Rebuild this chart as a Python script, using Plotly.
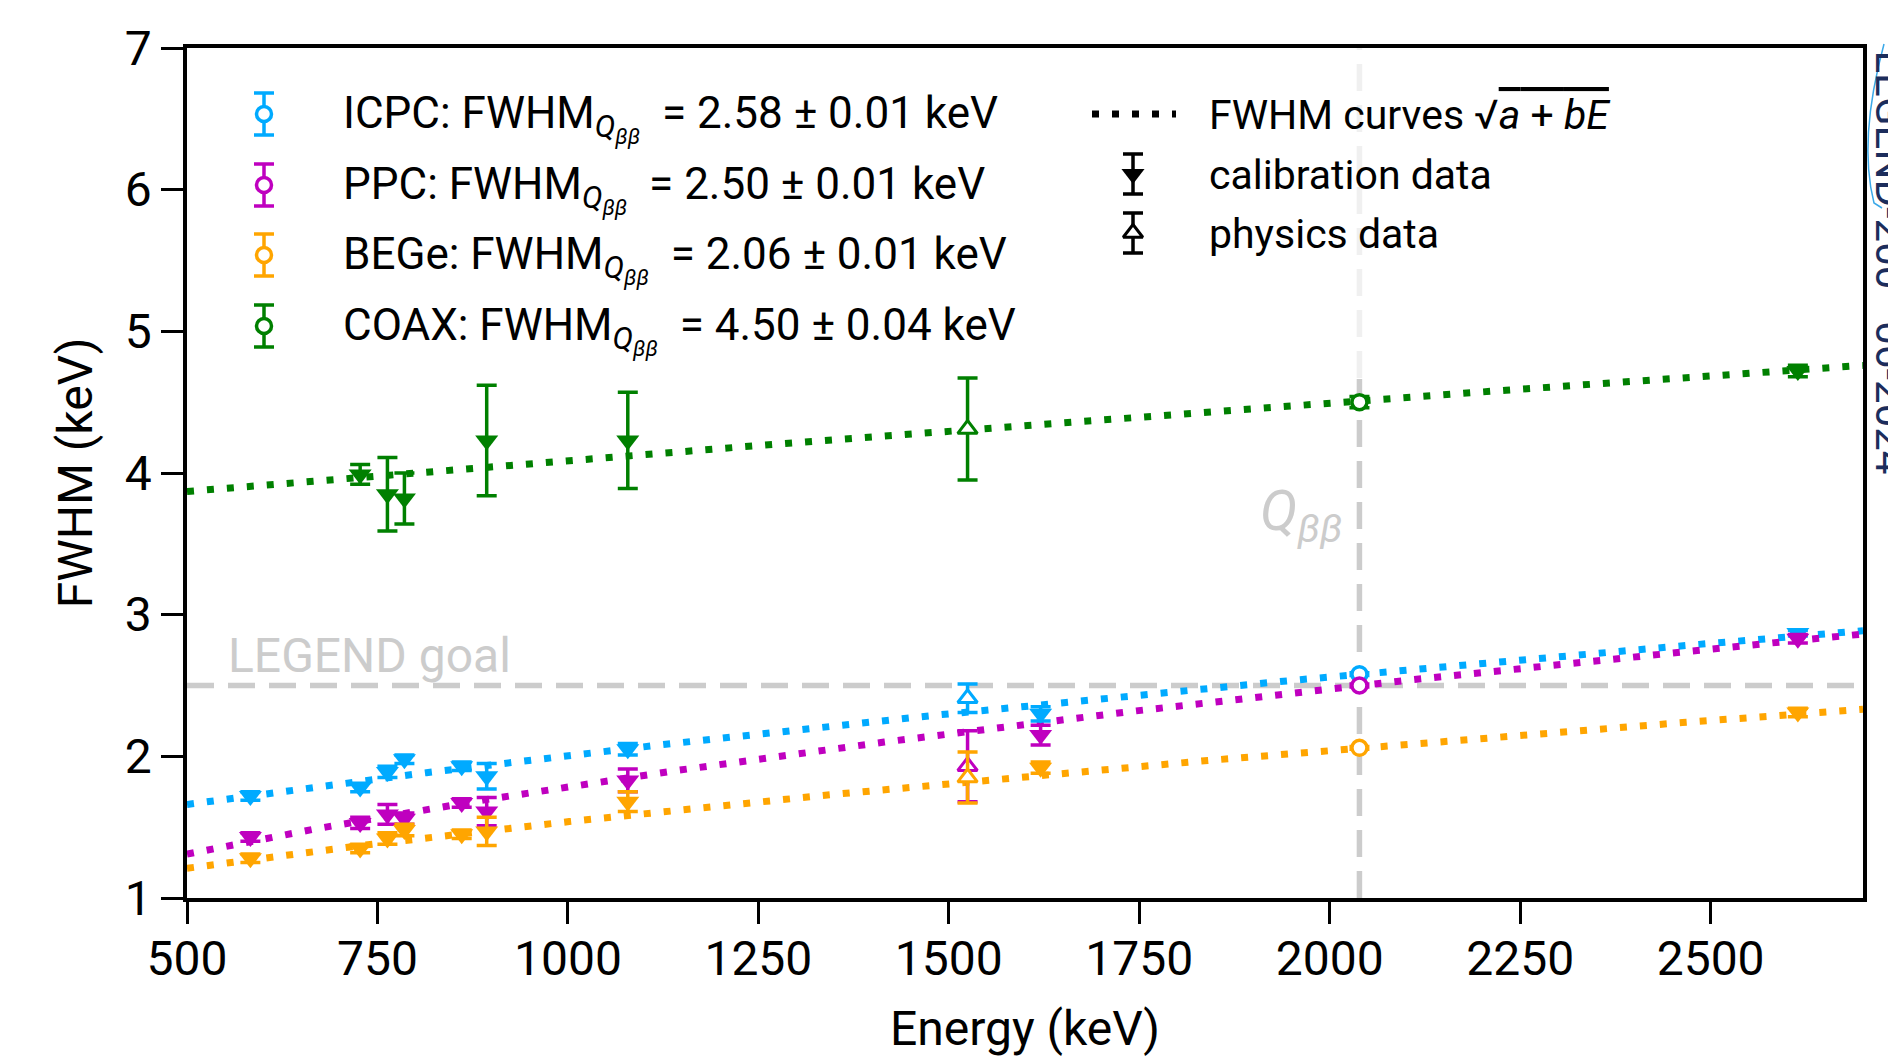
import numpy as np
import plotly.graph_objects as go

# ---------------- data ----------------
detectors = ["ICPC", "PPC", "BEGe", "COAX"]
colors = ["#00aaff", "#bf00bf", "#ffa500", "#008000"]
fwhm_qbb = [2.58, 2.50, 2.06, 4.50]
fwhm_qbb_err = [0.01, 0.01, 0.01, 0.04]
q_bb = 2039.0

cal_energy = [583.2, 727.3, 763.1, 785.4, 860.6, 893.4, 1078.6, 1620.5, 2614.5]
icpc_cal = [1.72, 1.78, 1.89, 1.98, 1.93, 1.86, 2.05, 2.30, 2.87]
icpc_cal_err = [0.03, 0.03, 0.04, 0.03, 0.03, 0.09, 0.04, 0.05, 0.02]
ppc_cal = [1.43, 1.53, 1.59, 1.56, 1.67, 1.61, 1.83, 2.15, 2.83]
ppc_cal_err = [0.03, 0.04, 0.07, 0.04, 0.03, 0.10, 0.08, 0.07, 0.03]
bege_cal = [1.28, 1.35, 1.42, 1.48, 1.45, 1.47, 1.68, 1.92, 2.31]
bege_cal_err = [0.03, 0.03, 0.04, 0.04, 0.03, 0.10, 0.07, 0.04, 0.03]
coax_cal_energy = [727.3, 763.1, 785.4, 893.4, 1078.6, 2614.5]
coax_cal = [3.99, 3.85, 3.82, 4.23, 4.23, 4.72]
coax_cal_err = [0.07, 0.26, 0.18, 0.39, 0.34, 0.04]

phys_energy = [1524.6]
icpc_phys = [2.41]
icpc_phys_err = [0.10]
ppc_phys = [1.93]
ppc_phys_err = [0.25]
bege_phys = [1.85]
bege_phys_err = [0.18]
coax_phys = [4.31]
coax_phys_err = [0.36]

# fit parameters of FWHM = sqrt(a + b E)
fit_a = [1.489, 0.243, 0.561, 13.23]
fit_b = [0.002534, 0.002946, 0.001806, 0.00349]

legend_goal = 2.5
x_ticks = [500, 750, 1000, 1250, 1500, 1750, 2000, 2250, 2500]

cal_sets = [
    (cal_energy, icpc_cal, icpc_cal_err),
    (cal_energy, ppc_cal, ppc_cal_err),
    (cal_energy, bege_cal, bege_cal_err),
    (coax_cal_energy, coax_cal, coax_cal_err),
]
phys_sets = [
    (phys_energy, icpc_phys, icpc_phys_err),
    (phys_energy, ppc_phys, ppc_phys_err),
    (phys_energy, bege_phys, bege_phys_err),
    (phys_energy, coax_phys, coax_phys_err),
]

# ---------------- layout geometry (page pixels) ----------------
OFF = 8                      # default body margin of the html page
W, H = 1896 - OFF, 1064 - OFF
L, R, T, B = 187, 1863, 48, 898
FONT = "Roboto"


def px(x):
    return (x - L) / (R - L)


def py(y):
    return (B - y) / (B - T)


fig = go.Figure()

# fit curves
e_grid = np.linspace(500, 2700, 400)
for i, det in enumerate(detectors):
    fig.add_trace(go.Scatter(
        x=e_grid, y=np.sqrt(fit_a[i] + fit_b[i] * e_grid), mode="lines",
        line=dict(color=colors[i], width=7, dash="7px,13px"),
        showlegend=False, hoverinfo="skip"))

ERR = dict(type="data", visible=True, thickness=3.5, width=10)

for i, det in enumerate(detectors):
    ex, ey, ee = cal_sets[i]
    fig.add_trace(go.Scatter(
        x=ex, y=ey, mode="markers",
        error_y=dict(array=ee, color=colors[i], **ERR),
        marker=dict(symbol="triangle-down", size=20, color=colors[i],
                    line=dict(width=0)),
        showlegend=False))
    px_, py_, pe_ = phys_sets[i]
    fig.add_trace(go.Scatter(
        x=px_, y=py_, mode="markers",
        error_y=dict(array=pe_, color=colors[i], **ERR),
        marker=dict(symbol="triangle-up", size=17, color="white",
                    line=dict(width=3, color=colors[i])),
        showlegend=False))
    fig.add_trace(go.Scatter(
        x=[q_bb], y=[fwhm_qbb[i]], mode="markers",
        error_y=dict(array=[fwhm_qbb_err[i]], color=colors[i], **ERR),
        marker=dict(symbol="circle", size=15, color="white",
                    line=dict(width=3.5, color=colors[i])),
        showlegend=False))

# ---------- legend glyphs (overlay axes in page-pixel units) ----------
leg_rows = [114, 185, 255, 326]
for i, det in enumerate(detectors):
    fig.add_trace(go.Scatter(
        x=[264], y=[leg_rows[i]], xaxis="x2", yaxis="y2", mode="markers",
        error_y=dict(type="data", array=[21], thickness=3.5, width=10,
                     color=colors[i]),
        marker=dict(symbol="circle", size=15, color="white",
                    line=dict(width=3.5, color=colors[i])),
        showlegend=False, hoverinfo="skip"))

fig.add_trace(go.Scatter(
    x=[1092, 1176], y=[114, 114], xaxis="x2", yaxis="y2", mode="lines",
    line=dict(color="black", width=7, dash="7px,13px"),
    showlegend=False, hoverinfo="skip"))
fig.add_trace(go.Scatter(
    x=[1133], y=[174], xaxis="x2", yaxis="y2", mode="markers",
    error_y=dict(type="data", array=[20], thickness=3.5, width=10, color="black"),
    marker=dict(symbol="triangle-down", size=20, color="black"),
    showlegend=False, hoverinfo="skip"))
fig.add_trace(go.Scatter(
    x=[1133], y=[233], xaxis="x2", yaxis="y2", mode="markers",
    error_y=dict(type="data", array=[20], thickness=3.5, width=10, color="black"),
    marker=dict(symbol="triangle-up", size=17, color="white",
                line=dict(width=3, color="black")),
    showlegend=False, hoverinfo="skip"))

# ---------- reference lines ----------
GREY = "#cccccc"
fig.add_shape(type="line", xref="x", yref="y", x0=500, x1=2700,
              y0=legend_goal, y1=legend_goal, layer="below",
              line=dict(color=GREY, width=5.5, dash="27px,14px"))
fig.add_shape(type="line", xref="x", yref="paper", x0=q_bb, x1=q_bb,
              y0=0, y1=py(378), layer="below",
              line=dict(color=GREY, width=5.5, dash="27px,14px"))
fig.add_shape(type="line", xref="x", yref="paper", x0=q_bb, x1=q_bb,
              y0=py(378), y1=1, layer="below",
              line=dict(color="#f0f0f0", width=5.5, dash="27px,14px"))

annotations = []
annotations.append(dict(
    text="LEGEND goal", x=px(226), y=py(655), xref="paper", yref="paper",
    xanchor="left", yanchor="middle", showarrow=False,
    font=dict(family=FONT, size=48, color=GREY)))
annotations.append(dict(
    text="<i>Q</i><sub><i>ββ</i></sub>", x=px(1344), y=py(515),
    xref="paper", yref="paper", xanchor="right", yanchor="middle",
    showarrow=False, font=dict(family=FONT, size=56, color=GREY)))

leg_text = [
    "ICPC: FWHM<sub><i>Q<sub>ββ</sub></i></sub>  = 2.58 ± 0.01 keV",
    "PPC: FWHM<sub><i>Q<sub>ββ</sub></i></sub>  = 2.50 ± 0.01 keV",
    "BEGe: FWHM<sub><i>Q<sub>ββ</sub></i></sub>  = 2.06 ± 0.01 keV",
    "COAX: FWHM<sub><i>Q<sub>ββ</sub></i></sub>  = 4.50 ± 0.04 keV",
]
for i, t in enumerate(leg_text):
    annotations.append(dict(
        text=t, x=px(341), y=py(leg_rows[i] + 4), xref="paper", yref="paper",
        xanchor="left", yanchor="middle", showarrow=False,
        font=dict(family=FONT, size=44, color="black")))

right_text = [
    "FWHM curves √<span style='text-decoration:overline'><i>a</i> + <i>bE</i></span>",
    "calibration data",
    "physics data",
]
for t, yy in zip(right_text, [114, 174, 233]):
    annotations.append(dict(
        text=t, x=px(1207), y=py(yy + 1), xref="paper", yref="paper",
        xanchor="left", yanchor="middle", showarrow=False,
        font=dict(family=FONT, size=41, color="black")))

annotations.append(dict(
    text="LEGEND-200 · 06-2024", x=px(1864), y=py(48), xref="paper",
    yref="paper", xanchor="left", yanchor="top", textangle=90,
    showarrow=False, font=dict(family=FONT, size=42, color="#1c2d5c")))

fig.add_shape(type="path", xref="paper", yref="paper", layer="above",
              path=f"M {px(1884)},{py(44)} Q {px(1858)},{py(140)} {px(1874)},{py(203)} L {px(1882)},{py(208)}",
              line=dict(color="#3aa8e8", width=1.5))

fig.update_layout(
    width=W, height=H,
    margin=dict(l=L - OFF, r=W - (R - OFF), t=T - OFF, b=H - (B - OFF),
                autoexpand=False),
    paper_bgcolor="white", plot_bgcolor="white",
    font=dict(family=FONT, color="black"),
    showlegend=False,
    annotations=annotations,
    xaxis=dict(range=[500, 2700], tickvals=x_ticks, ticks="outside",
               ticklen=22, tickwidth=3, tickcolor="black",
               ticklabelstandoff=-6,
               showline=True, linewidth=3.5, linecolor="black", mirror=True,
               showgrid=False, zeroline=False,
               tickfont=dict(family=FONT, size=48),
               title=dict(text="Energy (keV)", font=dict(family=FONT, size=48),
                          standoff=26)),
    yaxis=dict(range=[1, 7], dtick=1, ticks="outside",
               ticklen=22, tickwidth=3, tickcolor="black",
               showline=True, linewidth=3.5, linecolor="black", mirror=True,
               showgrid=False, zeroline=False,
               tickfont=dict(family=FONT, size=48),
               title=dict(text="FWHM (keV)", font=dict(family=FONT, size=48),
                          standoff=18)),
    xaxis2=dict(range=[L, R], overlaying="x", visible=False, fixedrange=True),
    yaxis2=dict(range=[B, T], overlaying="y", visible=False, fixedrange=True),
)

fig.write_html("out.html")
